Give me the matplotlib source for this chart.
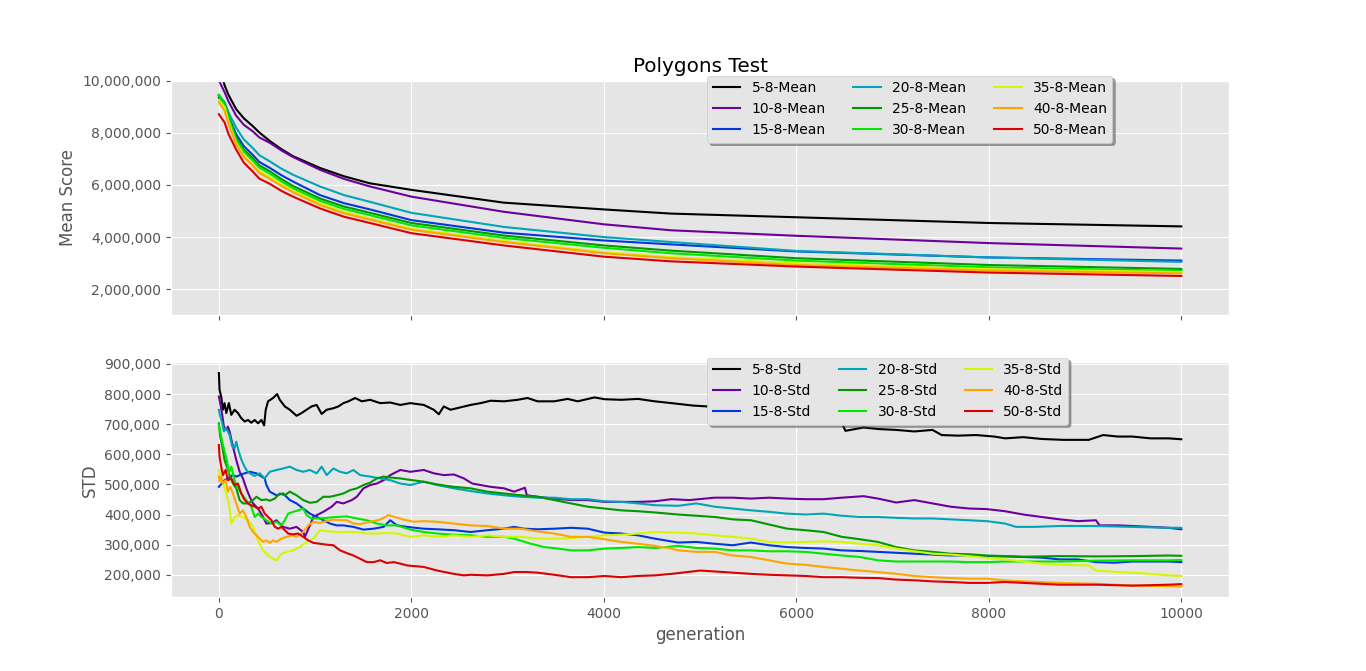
"""
Polygons Test: mean score and std per generation for each polygon config.
"""
import numpy as np
import matplotlib
matplotlib.use("Agg")
import matplotlib.pyplot as plt
from matplotlib.ticker import FuncFormatter

plt.style.use("ggplot")

# ── Data ────────────────────────────────────────────────────────────────────
configs = ["5-8", "10-8", "15-8", "20-8", "25-8", "30-8", "35-8", "40-8", "50-8"]

# mean score, millions, sampled at these generations
gens_mean = [0, 60, 100, 180, 260, 350, 420, 530, 650, 770, 1050, 1300, 1570, 2000, 2960,
             4000, 4700, 6000, 8000, 10000]
mean_5_8 = [10.6, 9.81, 9.45, 8.90, 8.55, 8.26, 8.01, 7.68, 7.37, 7.10, 6.65, 6.33, 6.06,
            5.81, 5.32, 5.06, 4.90, 4.76, 4.54, 4.41]
mean_10_8 = [10.0, 9.55, 9.20, 8.65, 8.30, 8.06, 7.82, 7.61, 7.32, 7.07, 6.58, 6.23, 5.94,
             5.55, 4.97, 4.49, 4.26, 4.05, 3.77, 3.56]
mean_15_8 = [9.35, 9.06, 8.62, 7.94, 7.48, 7.16, 6.88, 6.65, 6.37, 6.13, 5.61, 5.30, 5.06,
             4.65, 4.17, 3.87, 3.72, 3.45, 3.22, 3.10]
mean_20_8 = [9.45, 9.16, 8.78, 8.19, 7.74, 7.42, 7.14, 6.90, 6.62, 6.39, 5.94, 5.61, 5.35,
             4.93, 4.39, 4.00, 3.81, 3.47, 3.22, 3.05]
mean_25_8 = [9.42, 9.10, 8.60, 7.81, 7.35, 7.03, 6.75, 6.52, 6.22, 5.96, 5.48, 5.17, 4.93,
             4.54, 4.06, 3.68, 3.48, 3.19, 2.93, 2.78]
mean_30_8 = [9.45, 9.06, 8.57, 7.74, 7.27, 6.94, 6.66, 6.43, 6.13, 5.87, 5.39, 5.08, 4.84,
             4.45, 3.97, 3.59, 3.38, 3.10, 2.84, 2.70]
mean_35_8 = [9.26, 8.97, 8.42, 7.59, 7.12, 6.80, 6.52, 6.30, 6.01, 5.77, 5.29, 4.96, 4.71,
             4.32, 3.85, 3.42, 3.23, 3.00, 2.77, 2.66]
mean_40_8 = [9.16, 8.84, 8.33, 7.55, 7.07, 6.75, 6.46, 6.23, 5.96, 5.72, 5.23, 4.91, 4.67,
             4.28, 3.81, 3.38, 3.19, 2.93, 2.72, 2.61]
mean_50_8 = [8.71, 8.39, 7.95, 7.35, 6.85, 6.52, 6.24, 6.04, 5.77, 5.55, 5.10, 4.78, 4.54,
             4.15, 3.68, 3.25, 3.07, 2.87, 2.64, 2.51]

# std, thousands, (generation, value) pairs
std_5_8 = [(0, 870), (7, 814), (24, 792), (42, 748), (59, 770), (77, 737), (104, 770), (129, 731),
           (163, 748), (198, 737), (233, 720), (268, 709), (303, 714), (337, 705), (372, 714),
           (407, 703), (442, 714), (470, 696), (487, 748), (511, 776), (563, 787), (605, 800),
           (633, 781), (685, 759), (737, 748), (807, 728), (859, 737), (911, 748), (963, 759),
           (1016, 764), (1068, 734), (1120, 748), (1190, 753), (1242, 759), (1294, 770),
           (1346, 776), (1416, 787), (1485, 776), (1572, 781), (1676, 770), (1781, 772),
           (1885, 764), (1989, 770), (2129, 764), (2233, 748), (2285, 733), (2337, 759),
           (2407, 748), (2511, 756), (2616, 764), (2720, 770), (2824, 778), (2963, 776),
           (3103, 781), (3207, 787), (3311, 776), (3485, 776), (3624, 784), (3729, 776),
           (3903, 789), (4007, 783), (4181, 781), (4355, 784), (4529, 776), (4703, 770),
           (4924, 762), (5075, 759), (5500, 755), (6000, 750), (6440, 745), (6490, 692),
           (6510, 678), (6698, 689), (6849, 684), (7038, 681), (7226, 676), (7415, 681),
           (7510, 664), (7679, 662), (7868, 664), (8057, 659), (8170, 653), (8359, 657),
           (8548, 651), (8774, 648), (9038, 648), (9189, 664), (9340, 659), (9491, 659),
           (9680, 653), (9868, 653), (10000, 650)]
std_10_8 = [(0, 792), (14, 770), (35, 731), (52, 692), (77, 681), (94, 692), (111, 676), (146, 626),
            (181, 581), (216, 542), (250, 520), (285, 487), (320, 459), (355, 437), (407, 420),
            (459, 392), (494, 370), (546, 372), (598, 381), (668, 359), (737, 353), (807, 359),
            (876, 342), (894, 326), (946, 364), (981, 392), (1085, 409), (1172, 426), (1224, 442),
            (1294, 437), (1381, 448), (1433, 459), (1502, 487), (1572, 498), (1642, 503),
            (1711, 514), (1781, 531), (1885, 548), (1989, 542), (2129, 548), (2233, 537),
            (2337, 531), (2442, 533), (2546, 520), (2633, 503), (2720, 498), (2824, 492),
            (2963, 487), (3068, 476), (3180, 489), (3200, 464), (3311, 459), (3485, 453),
            (3659, 448), (3833, 448), (4007, 442), (4181, 442), (4355, 442), (4529, 444),
            (4703, 451), (4887, 448), (5151, 456), (5340, 456), (5528, 453), (5717, 456),
            (5906, 453), (6094, 451), (6283, 451), (6472, 456), (6698, 461), (6849, 453),
            (7038, 440), (7226, 448), (7415, 437), (7604, 426), (7793, 420), (7981, 418),
            (8170, 411), (8359, 400), (8548, 392), (8736, 384), (8925, 378), (9113, 381),
            (9151, 364), (9340, 364), (9491, 362), (9680, 359), (9868, 356), (10000, 351)]
std_15_8 = [(0, 492), (59, 514), (146, 531), (181, 526), (250, 535), (320, 542), (390, 537),
            (476, 520), (494, 498), (529, 476), (598, 464), (668, 470), (737, 448), (807, 437),
            (876, 420), (946, 403), (1050, 387), (1155, 370), (1224, 364), (1294, 364),
            (1398, 359), (1502, 350), (1607, 353), (1711, 359), (1781, 381), (1850, 364),
            (1955, 359), (2129, 353), (2268, 351), (2442, 348), (2616, 342), (2790, 348),
            (2963, 353), (3068, 359), (3172, 353), (3311, 351), (3485, 353), (3659, 356),
            (3833, 353), (4007, 340), (4181, 337), (4355, 331), (4529, 320), (4774, 307),
            (4962, 309), (5151, 303), (5340, 298), (5528, 307), (5717, 298), (5906, 292),
            (6094, 289), (6283, 287), (6472, 281), (6660, 279), (6849, 276), (7038, 273),
            (7226, 270), (7415, 267), (7604, 264), (7793, 264), (7981, 262), (8170, 261),
            (8359, 259), (8548, 257), (8736, 251), (8925, 251), (9113, 242), (9302, 240),
            (9491, 244), (9680, 244), (9868, 244), (10000, 242)]
std_20_8 = [(0, 748), (14, 726), (35, 703), (52, 676), (70, 687), (94, 676), (111, 664), (139, 626),
            (163, 620), (181, 642), (198, 620), (223, 592), (250, 570), (285, 548), (320, 537),
            (372, 528), (424, 537), (476, 520), (529, 542), (598, 548), (668, 553), (737, 559),
            (807, 548), (876, 542), (946, 548), (1016, 537), (1068, 559), (1120, 531), (1190, 553),
            (1259, 542), (1329, 537), (1398, 548), (1468, 531), (1572, 526), (1676, 520),
            (1781, 514), (1885, 503), (1989, 498), (2129, 509), (2268, 498), (2442, 487),
            (2616, 478), (2790, 470), (2963, 464), (3137, 459), (3311, 456), (3485, 456),
            (3659, 451), (3833, 451), (4007, 444), (4181, 442), (4355, 437), (4529, 431),
            (4774, 429), (4962, 437), (5151, 426), (5340, 420), (5528, 414), (5717, 409),
            (5906, 403), (6094, 400), (6283, 403), (6472, 396), (6660, 392), (6849, 392),
            (7038, 389), (7226, 387), (7415, 387), (7604, 384), (7793, 381), (7981, 378),
            (8170, 370), (8283, 359), (8472, 359), (8736, 362), (9113, 362), (9491, 359),
            (9868, 356), (10000, 356)]
std_25_8 = [(0, 703), (14, 659), (35, 626), (59, 581), (83, 559), (111, 531), (146, 503), (181, 487),
            (216, 448), (250, 437), (303, 437), (355, 448), (390, 459), (442, 448), (494, 450),
            (529, 446), (581, 453), (633, 470), (685, 464), (737, 476), (807, 464), (876, 448),
            (946, 439), (1016, 442), (1085, 459), (1155, 459), (1224, 464), (1294, 470),
            (1363, 481), (1433, 487), (1502, 498), (1572, 506), (1642, 520), (1711, 526),
            (1781, 523), (1885, 520), (1989, 515), (2129, 509), (2268, 500), (2442, 492),
            (2616, 487), (2790, 476), (2963, 470), (3137, 464), (3311, 459), (3485, 448),
            (3659, 437), (3833, 426), (4007, 420), (4181, 414), (4355, 411), (4529, 407),
            (4774, 400), (4962, 396), (5151, 392), (5340, 384), (5528, 381), (5717, 367),
            (5906, 353), (6094, 348), (6283, 342), (6472, 326), (6660, 318), (6849, 309),
            (7038, 292), (7226, 281), (7415, 276), (7604, 270), (7793, 268), (7981, 264),
            (8170, 262), (8359, 260), (8736, 262), (9113, 261), (9491, 262), (9868, 264),
            (10000, 263)]
std_30_8 = [(0, 698), (14, 676), (35, 642), (59, 609), (83, 581), (104, 537), (129, 559), (163, 514),
            (198, 487), (233, 470), (285, 448), (337, 426), (372, 392), (407, 403), (442, 392),
            (494, 381), (546, 370), (598, 376), (650, 364), (685, 381), (720, 403), (772, 409),
            (824, 414), (876, 420), (911, 398), (963, 387), (1050, 387), (1155, 390), (1224, 392),
            (1329, 394), (1433, 387), (1537, 381), (1642, 370), (1746, 364), (1850, 364),
            (1989, 350), (2129, 342), (2268, 337), (2442, 333), (2616, 331), (2790, 326),
            (2963, 326), (3068, 320), (3242, 303), (3381, 292), (3520, 287), (3659, 281),
            (3833, 281), (4007, 287), (4181, 289), (4355, 292), (4529, 289), (4774, 296),
            (4962, 289), (5151, 287), (5340, 281), (5528, 281), (5717, 278), (5906, 278),
            (6094, 276), (6283, 270), (6472, 264), (6660, 259), (6849, 248), (7038, 244),
            (7226, 244), (7415, 244), (7604, 244), (7793, 242), (7981, 242), (8170, 244),
            (8359, 244), (8736, 244), (9113, 247), (9491, 248), (9868, 248), (10000, 249)]
std_35_8 = [(0, 548), (7, 537), (24, 514), (49, 498), (77, 470), (104, 437), (129, 370), (163, 392),
            (198, 398), (250, 392), (303, 381), (355, 359), (407, 314), (459, 281), (511, 264),
            (563, 253), (598, 248), (650, 270), (703, 276), (772, 281), (841, 292), (911, 309),
            (981, 320), (1050, 348), (1120, 345), (1224, 342), (1329, 342), (1433, 342),
            (1537, 337), (1642, 337), (1746, 339), (1850, 337), (1989, 326), (2129, 331),
            (2268, 326), (2442, 331), (2616, 326), (2790, 331), (2963, 326), (3137, 326),
            (3311, 320), (3485, 320), (3659, 322), (3833, 326), (4007, 331), (4181, 333),
            (4355, 337), (4529, 342), (4774, 340), (4962, 337), (5151, 331), (5340, 326),
            (5528, 320), (5717, 309), (5906, 307), (6094, 309), (6283, 311), (6472, 309),
            (6660, 303), (6849, 298), (7038, 287), (7226, 278), (7415, 270), (7604, 267),
            (7793, 262), (7981, 256), (8170, 251), (8359, 244), (8548, 237), (8736, 233),
            (9038, 231), (9113, 214), (9340, 209), (9491, 207), (9680, 203), (9868, 198),
            (10000, 196)]
std_40_8 = [(0, 526), (7, 509), (24, 526), (42, 503), (70, 514), (94, 476), (118, 492), (146, 470),
            (181, 437), (216, 403), (250, 414), (285, 392), (320, 359), (355, 342), (390, 331),
            (424, 320), (459, 309), (494, 314), (529, 306), (563, 314), (598, 309), (650, 320),
            (703, 326), (755, 331), (807, 326), (876, 342), (929, 364), (981, 376), (1050, 372),
            (1120, 379), (1190, 383), (1259, 381), (1329, 381), (1398, 370), (1468, 368),
            (1572, 376), (1676, 383), (1763, 398), (1850, 390), (1920, 383), (2024, 376),
            (2129, 378), (2268, 376), (2442, 370), (2616, 364), (2790, 362), (2963, 353),
            (3137, 353), (3311, 344), (3485, 337), (3659, 326), (3833, 326), (4007, 318),
            (4181, 309), (4355, 303), (4529, 296), (4703, 287), (4774, 281), (4962, 276),
            (5151, 276), (5340, 264), (5528, 259), (5717, 248), (5906, 237), (6094, 233),
            (6283, 226), (6472, 220), (6660, 214), (6849, 209), (7038, 203), (7226, 196),
            (7415, 192), (7604, 189), (7793, 187), (7981, 187), (8170, 181), (8359, 178),
            (8736, 173), (9113, 170), (9491, 164), (9868, 162), (10000, 161)]
std_50_8 = [(0, 631), (7, 592), (24, 559), (42, 531), (70, 548), (94, 514), (129, 520), (163, 498),
            (198, 503), (233, 470), (268, 448), (303, 437), (337, 431), (372, 426), (407, 420),
            (442, 426), (476, 403), (511, 392), (546, 381), (581, 359), (616, 353), (650, 359),
            (685, 348), (720, 337), (772, 334), (824, 337), (876, 326), (929, 314), (981, 306),
            (1050, 303), (1120, 300), (1190, 298), (1259, 281), (1329, 272), (1398, 264),
            (1468, 253), (1537, 242), (1607, 242), (1676, 248), (1746, 239), (1816, 242),
            (1885, 237), (1955, 231), (2129, 226), (2268, 214), (2442, 203), (2546, 198),
            (2616, 200), (2790, 198), (2963, 203), (3068, 209), (3207, 209), (3311, 207),
            (3485, 200), (3659, 192), (3833, 192), (4007, 196), (4181, 192), (4355, 196),
            (4529, 198), (4703, 203), (5000, 214), (5151, 211), (5340, 207), (5528, 203),
            (5717, 200), (5906, 198), (6094, 196), (6283, 192), (6472, 192), (6660, 190),
            (6849, 189), (7038, 184), (7264, 181), (7415, 178), (7604, 176), (7793, 173),
            (7981, 173), (8170, 176), (8359, 173), (8548, 170), (8736, 167), (9113, 167),
            (9491, 164), (9868, 167), (10000, 169)]

means = [mean_5_8, mean_10_8, mean_15_8, mean_20_8, mean_25_8,
         mean_30_8, mean_35_8, mean_40_8, mean_50_8]
stds = [std_5_8, std_10_8, std_15_8, std_20_8, std_25_8,
        std_30_8, std_35_8, std_40_8, std_50_8]

colors = plt.cm.nipy_spectral(np.linspace(0, 0.9, len(configs)))
comma_fmt = FuncFormatter(lambda v, p: f"{v:,.0f}")

# ── Figure ───────────────────────────────────────────────────────────────────
fig, (ax1, ax2) = plt.subplots(2, 1, sharex=True, figsize=(13.66, 6.71), dpi=100)

for name, m, c in zip(configs, means, colors):
    ax1.plot(gens_mean, np.array(m) * 1e6, color=c, label=f"{name}-Mean")
ax1.set_ylim(1e6, 1e7)
ax1.set_ylabel("Mean Score")
ax1.set_title("Polygons Test")
ax1.yaxis.set_major_formatter(comma_fmt)
ax1.legend(loc="upper left", bbox_to_anchor=(0.5, 1.05), ncol=3, shadow=True)

for name, s, c in zip(configs, stds, colors):
    g, v = zip(*s)
    ax2.plot(g, np.array(v) * 1e3, color=c, label=f"{name}-Std")
ax2.set_ylabel("STD")
ax2.set_xlabel("generation")
ax2.yaxis.set_major_formatter(comma_fmt)
ax2.legend(loc="upper left", bbox_to_anchor=(0.5, 1.05), ncol=3, shadow=True)

fig.savefig("out.png", dpi=100)
plt.close()
